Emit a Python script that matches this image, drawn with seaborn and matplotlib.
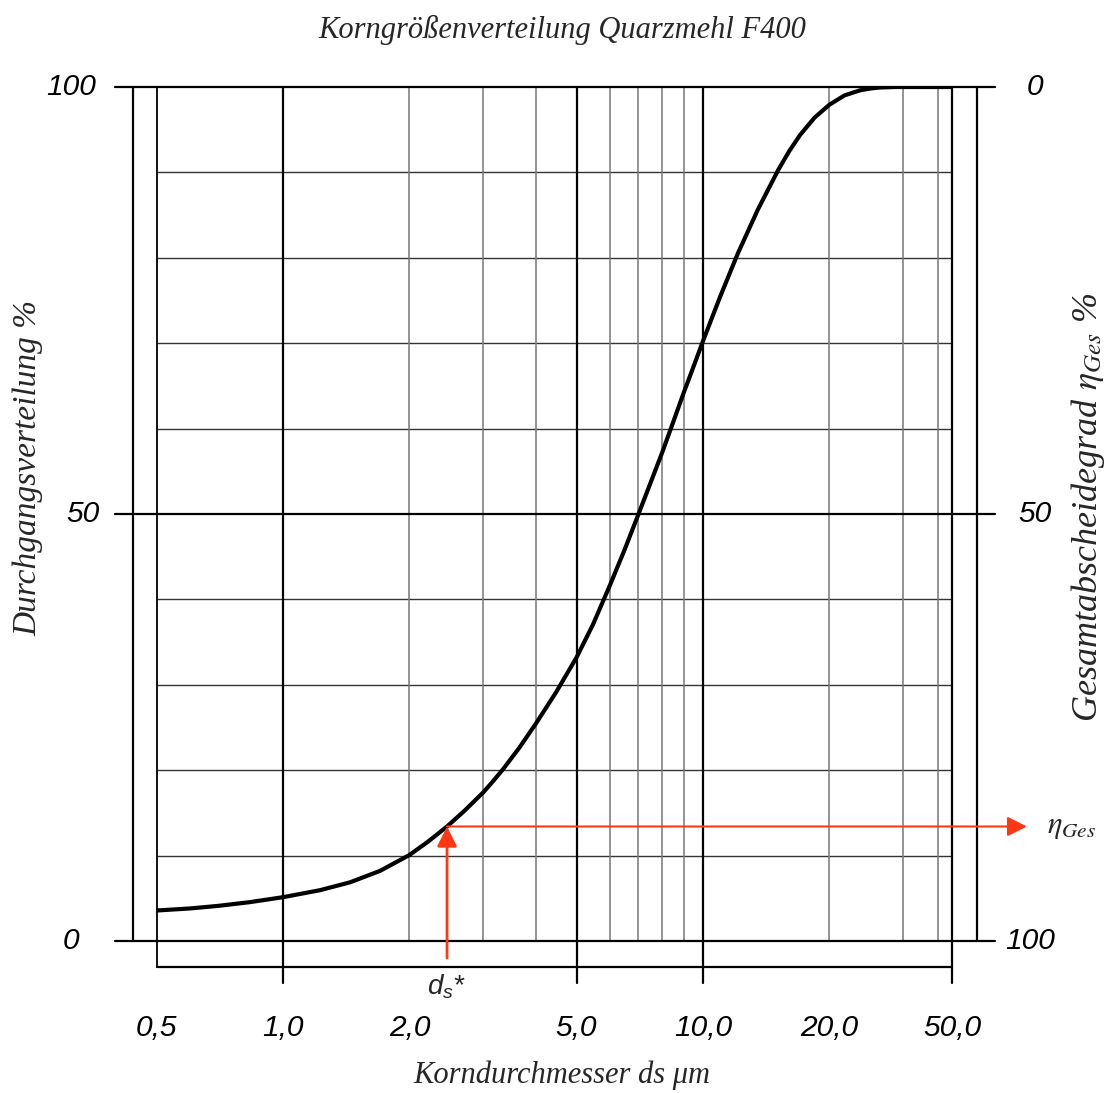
import numpy as np
import matplotlib
matplotlib.use("Agg")
import matplotlib.pyplot as plt
import seaborn as sns

# ---------------- data ----------------
diameter = [0.5, 0.6, 0.7, 0.834, 1.0, 1.225, 1.444, 1.702, 2.0, 2.214, 2.458,
            2.713, 3.0, 3.162, 3.341, 3.657, 4.0, 4.467, 5.0, 5.47, 6.0, 6.485,
            7.0, 7.48, 8.0, 8.485, 9.0, 9.49, 10.0, 10.98, 12.11, 13.52, 15.09,
            16.03, 17.02, 18.43, 20.0, 21.73, 23.65, 24.98, 26.38, 28.65, 30.0,
            50.0]
passing = [3.57, 3.81, 4.11, 4.55, 5.13, 5.95, 6.87, 8.21, 10.07, 11.63, 13.41,
           15.31, 17.42, 18.70, 20.11, 22.66, 25.46, 29.11, 33.21, 37.05, 41.63,
           45.64, 49.82, 53.50, 57.24, 60.71, 64.22, 67.24, 70.25, 75.42, 80.53,
           85.68, 90.25, 92.46, 94.37, 96.41, 97.93, 99.02, 99.61, 99.82, 99.94,
           100.0, 100.0, 100.0]

grid_major_x = [1, 5, 10, 50]
grid_minor_x = [2, 3, 4, 6, 7, 8, 9, 20, 30, 40]
grid_left_x = 0.5
grid_minor_y = [10, 20, 30, 40, 60, 70, 80, 90]
grid_major_y = [0, 50, 100]

x_tick_values = [0.5, 1, 2, 5, 10, 20, 50]
x_tick_labels = ["0,5", "1,0", "2,0", "5,0", "10,0", "20,0", "50,0"]
left_tick_values = [100, 50, 0]
left_tick_labels = ["100", "50", "0"]
right_tick_labels = ["0", "50", "100"]

ds_star = 2.458

title = "Korngrößenverteilung Quarzmehl F400"
xlabel = "Korndurchmesser ds μm"
ylabel_left = "Durchgangsverteilung %"
ylabel_right = r"Gesamtabscheidegrad $\eta_{Ges}$ %"

# ---------------- style ----------------
sns.set_style("white")
plt.rcParams["font.family"] = ["Liberation Sans", "DejaVu Sans"]
plt.rcParams["mathtext.fontset"] = "custom"
plt.rcParams["mathtext.it"] = "Liberation Sans:italic"
plt.rcParams["mathtext.rm"] = "Liberation Sans"

W, H = 1109, 1093
fig = plt.figure(figsize=(W / 100, H / 100), dpi=100)
AX_L, AX_R, AX_T, AX_B = 115, 995, 87, 941
ax = fig.add_axes([AX_L / W, 1 - AX_B / H, (AX_R - AX_L) / W, (AX_B - AX_T) / H])

# x axis: logarithmic paper, compressed above 30 as drawn in the reference
L30, L40, L50 = np.log10(30), np.log10(40), np.log10(50)
U40, U50 = (938 - 283) / 420, (952 - 283) / 420
LK = np.array([-6.0, L30, L40, L50, 6.0])
UK = np.array([-6.0, L30, U40, U50, U50 + (6.0 - L50)])


def fwd(x):
    lx = np.log10(np.clip(np.asarray(x, dtype=float), 1e-6, None))
    return np.interp(lx, LK, UK)


def inv(u):
    return 10 ** np.interp(np.asarray(u, dtype=float), UK, LK)


ax.set_xscale("function", functions=(fwd, inv))
u_left = (AX_L - 283) / 420
u_right = (AX_R - 283) / 420
ax.set_xlim(inv(u_left), inv(u_right))
ax.set_ylim(0, 100)

PX_PER_Y = (AX_B - AX_T) / 100.0


def py(p):
    """pixel row -> data y (layout helper)"""
    return (AX_B - p) / PX_PER_Y


def fx(p):
    """pixel column -> axes fraction (layout helper)"""
    return (p - AX_L) / (AX_R - AX_L)


ytr = ax.get_yaxis_transform()

# horizontal grid
for v in grid_minor_y:
    ax.plot([grid_left_x, 50], [v, v], color="#333333", lw=1.0, zorder=1)
for v in grid_major_y:
    ax.plot([0, 1], [v, v], transform=ytr, color="black", lw=1.6, clip_on=False, zorder=2)

# vertical grid
for v in grid_minor_x:
    ax.plot([v, v], [0, 100], color="#777777", lw=1.1, zorder=1)
ax.plot([grid_left_x, grid_left_x], [py(967), 100], color="black", lw=1.3, clip_on=False, zorder=2)
for v in grid_major_x:
    ax.plot([v, v], [py(983), 100], color="black", lw=1.6, clip_on=False, zorder=2)

# bottom box and outer frame
ax.plot([grid_left_x, 50], [py(967), py(967)], color="black", lw=1.6, clip_on=False)
for p in (133, 977):
    ax.plot([fx(p), fx(p)], [0, 100], transform=ytr, color="black", lw=1.6, clip_on=False)

# curve
sns.lineplot(x=diameter, y=passing, ax=ax, color="black", lw=3.0, zorder=4,
             solid_joinstyle="round", solid_capstyle="butt")

# red construction arrows
red = "#FF3814"
eta_val = float(np.interp(np.log10(ds_star), np.log10(diameter), passing))
ax.annotate("", xy=(ds_star, eta_val), xytext=(ds_star, py(958)),
            arrowprops=dict(arrowstyle="-|>,head_length=0.6,head_width=0.3",
                            color=red, lw=2.0, shrinkA=0, shrinkB=0,
                            mutation_scale=20),
            annotation_clip=False, zorder=5)
ax.annotate("", xy=(fx(1027), eta_val), xycoords=ytr,
            xytext=(ds_star, eta_val), textcoords="data",
            arrowprops=dict(arrowstyle="-|>,head_length=0.6,head_width=0.3",
                            color=red, lw=1.5, shrinkA=0, shrinkB=0,
                            mutation_scale=20),
            annotation_clip=False, zorder=5)

# remove default decorations
ax.set_xticks([])
ax.set_yticks([])
ax.minorticks_off()
for s in ax.spines.values():
    s.set_visible(False)
ax.set_facecolor("none")

# tick labels
tick_font = dict(fontsize=21.5, style="italic", family=["Liberation Sans", "DejaVu Sans"],
                 color="black")
for v, lab in zip(x_tick_values, x_tick_labels):
    ax.text(v, py(1028), lab, ha="center", va="center", clip_on=False, **tick_font)
left_centers = [71, 83, 71]
for v, lab, c in zip(left_tick_values, left_tick_labels, left_centers):
    ax.text(fx(c), v, lab, transform=ytr, ha="center", va="center", **tick_font)
right_centers = [1035, 1035, 1030]
for v, lab, c in zip(left_tick_values, right_tick_labels, right_centers):
    ax.text(fx(c), v, lab, transform=ytr, ha="center", va="center", **tick_font)

ax.text(ds_star, py(987), r"$d_s$*", ha="center", va="center", fontsize=20,
        style="italic", clip_on=False)

# titles / axis labels (serif italic)
serif = dict(family=["Liberation Serif", "DejaVu Serif"], style="italic")
fig.text(562 / W, 1 - 30 / H, title, ha="center", va="center", fontsize=22, **serif)
fig.text(562 / W, 1 - 1075 / H, xlabel, ha="center", va="center", fontsize=22, **serif)
fig.text(28 / W, 1 - 468 / H, ylabel_left, ha="center", va="center", rotation=90,
         fontsize=24, **serif)
fig.text(1088 / W, 1 - 507 / H, ylabel_right, ha="center", va="center", rotation=90,
         fontsize=26, math_fontfamily="stix", **serif)
ax.text(fx(1072), eta_val, r"$\eta_{Ges}$", transform=ytr, ha="center", va="center",
        fontsize=22, math_fontfamily="stix", **serif)

fig.savefig("out.png", dpi=100)
